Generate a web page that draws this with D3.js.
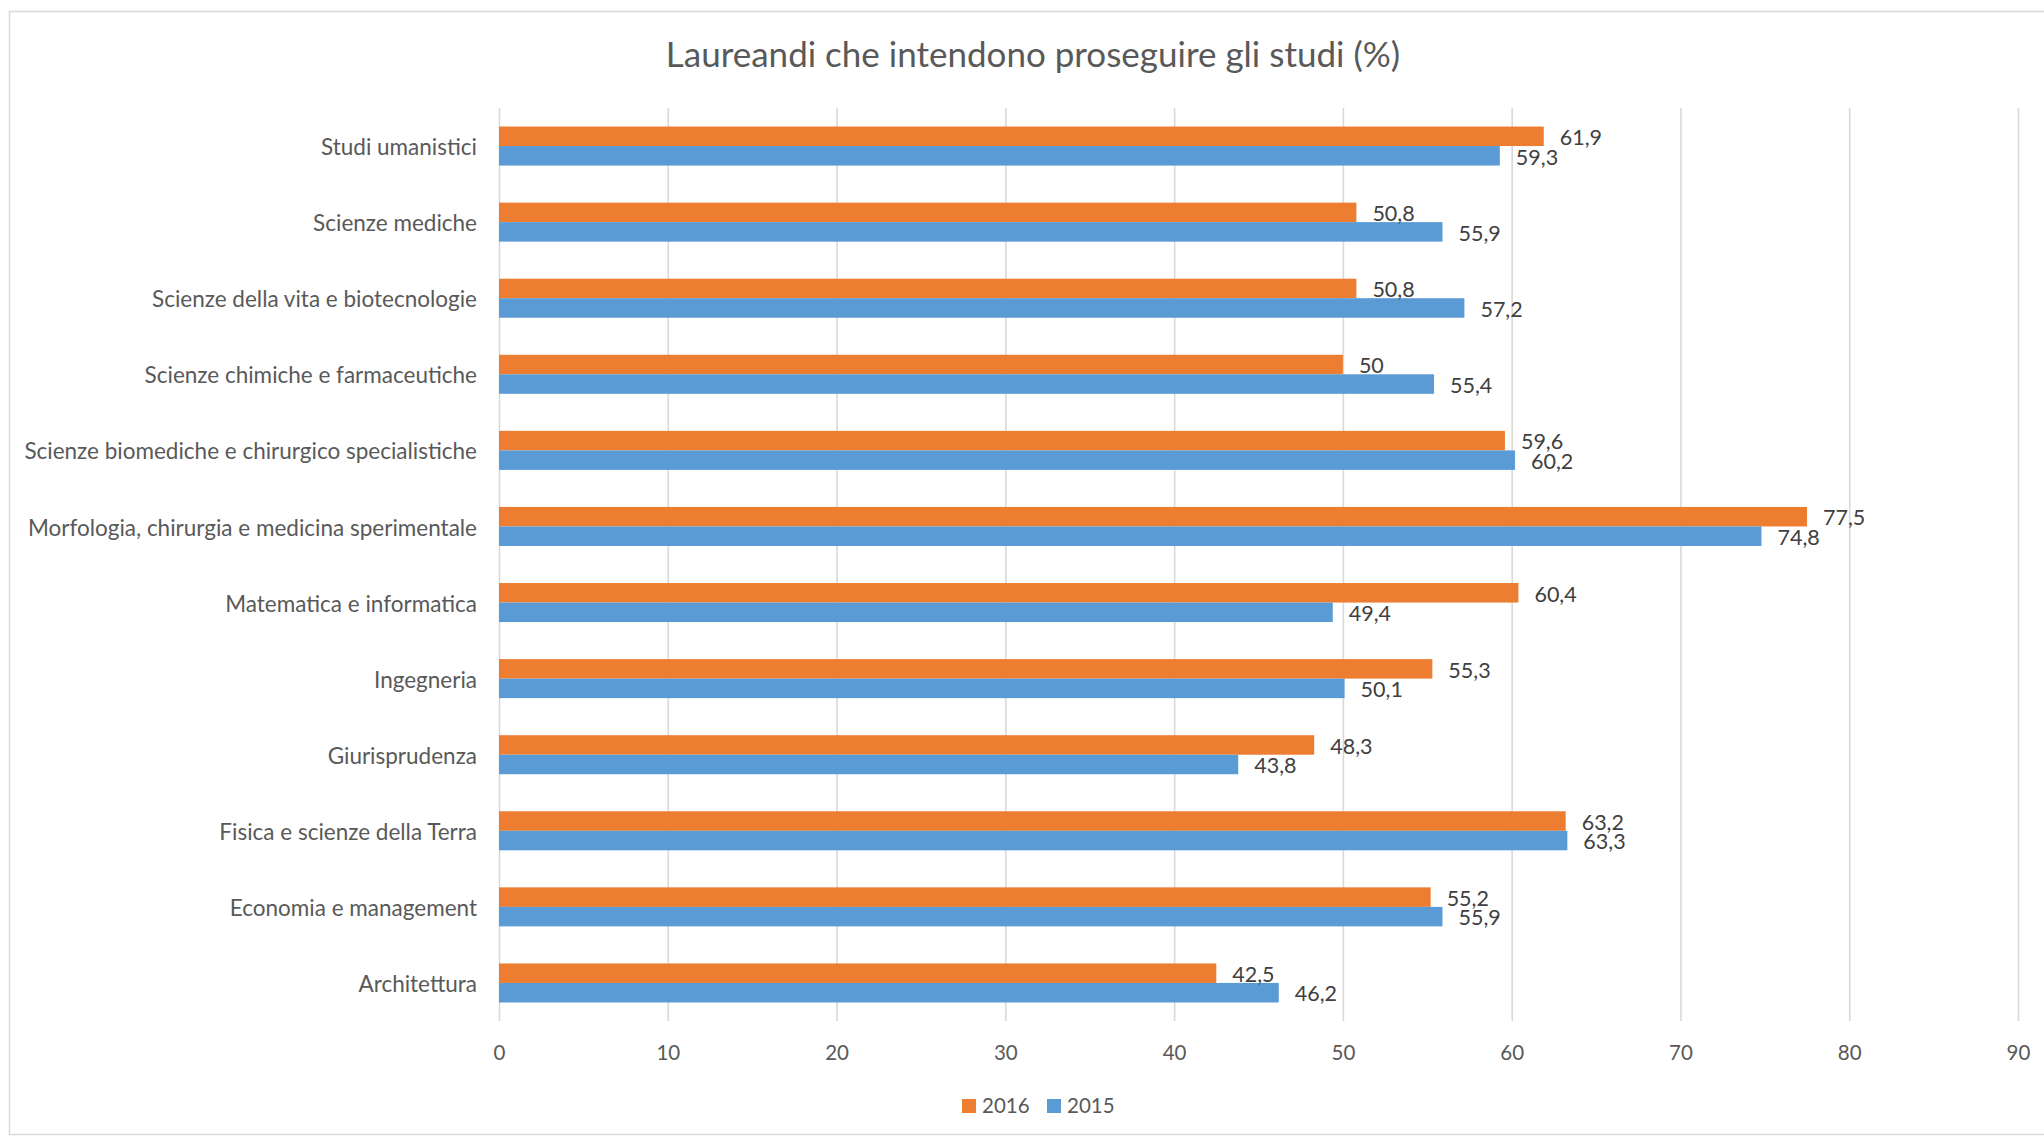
<!DOCTYPE html>
<html><head><meta charset="utf-8">
<script src="https://cdn.jsdelivr.net/npm/d3@7"></script>
<style>
html,body{margin:0;padding:0;background:#fff;}
svg{display:block;font-family:Lato, "Open Sans", sans-serif;}
</style></head>
<body>
<svg id="chart" width="2044" height="1138"></svg>
<script>
const categories = [
  "Studi umanistici",
  "Scienze mediche",
  "Scienze della vita e biotecnologie",
  "Scienze chimiche e farmaceutiche",
  "Scienze biomediche e chirurgico specialistiche",
  "Morfologia, chirurgia e medicina sperimentale",
  "Matematica e informatica",
  "Ingegneria",
  "Giurisprudenza",
  "Fisica e scienze della Terra",
  "Economia e management",
  "Architettura"
];
const series = ["2016", "2015"];
const values2016 = [61.9, 50.8, 50.8, 50, 59.6, 77.5, 60.4, 55.3, 48.3, 63.2, 55.2, 42.5];
const values2015 = [59.3, 55.9, 57.2, 55.4, 60.2, 74.8, 49.4, 50.1, 43.8, 63.3, 55.9, 46.2];
const xTicks = [0, 10, 20, 30, 40, 50, 60, 70, 80, 90];
const chartTitle = "Laureandi che intendono proseguire gli studi (%)";

const colors = {"2016": "#ED7D31", "2015": "#5B9BD5"};
const data = categories.map((c, i) => ({cat: c, "2016": values2016[i], "2015": values2015[i]}));

const svg = d3.select("#chart");
svg.append("rect").attr("width", 2044).attr("height", 1138).attr("fill", "#fff");
svg.append("rect").attr("x", 9.5).attr("y", 11.5).attr("width", 2100).attr("height", 1123)
  .attr("fill", "none").attr("stroke", "#D9D9D9").attr("stroke-width", 1.5);

const pLeft = 499, pRight = 2018, pTop = 108, pBottom = 1021;
const x = d3.scaleLinear().domain([0, 90]).range([pLeft, pRight]);
const y = d3.scaleBand().domain(categories).range([pTop, pBottom]).paddingInner(0.487).paddingOuter(0.2435);
const ys = d3.scaleBand().domain(series).range([0, y.bandwidth()]);

// gridlines + tick labels
const axis = d3.axisBottom(x).tickValues(xTicks).tickSize(-(pBottom - pTop)).tickPadding(22).tickFormat(d3.format("d"));
const gAxis = svg.append("g").attr("transform", `translate(0,${pBottom})`).call(axis);
gAxis.select(".domain").remove();
gAxis.selectAll(".tick line").attr("stroke", "#D9D9D9").attr("stroke-width", 1.6);
gAxis.selectAll(".tick text").attr("fill", "#595959").attr("font-size", 20.5).attr("font-family", "Lato, sans-serif").attr("dy", "0.71em").attr("y", 24);

// bars
const groups = svg.append("g").selectAll("g").data(data).join("g")
  .attr("transform", d => `translate(0,${y(d.cat)})`);
groups.selectAll("rect").data(d => series.map(s => ({s, v: d[s]}))).join("rect")
  .attr("x", x(0)).attr("y", d => ys(d.s)).attr("height", ys.bandwidth())
  .attr("width", d => x(d.v) - x(0)).attr("fill", d => colors[d.s]);
const fmt = v => String(v).replace(".", ",");
groups.selectAll("text").data(d => series.map(s => ({s, v: d[s]}))).join("text")
  .attr("x", d => x(d.v) + 16).attr("y", d => ys(d.s) + ys.bandwidth() / 2 + 1)
  .attr("dy", "0.36em").attr("fill", "#404040").attr("font-size", 21.5)
  .text(d => fmt(d.v));

// category labels
svg.append("g").selectAll("text").data(categories).join("text")
  .attr("x", 477).attr("y", d => y(d) + y.bandwidth() / 2 + 1)
  .attr("dy", "0.36em").attr("text-anchor", "end").attr("fill", "#595959").attr("font-size", 22.5)
  .text(d => d);

// title
svg.append("text").attr("x", 1033).attr("y", 67).attr("text-anchor", "middle")
  .attr("fill", "#595959").attr("font-size", 35).text(chartTitle);

// legend
const leg = svg.append("g");
const legX = [962, 1047];
series.forEach((s, i) => {
  leg.append("rect").attr("x", legX[i]).attr("y", 1099).attr("width", 14).attr("height", 14).attr("fill", colors[s]);
  leg.append("text").attr("x", legX[i] + 20).attr("y", 1106).attr("dy", "0.36em")
    .attr("fill", "#595959").attr("font-size", 20.5).text(s);
});
</script>
</body></html>
